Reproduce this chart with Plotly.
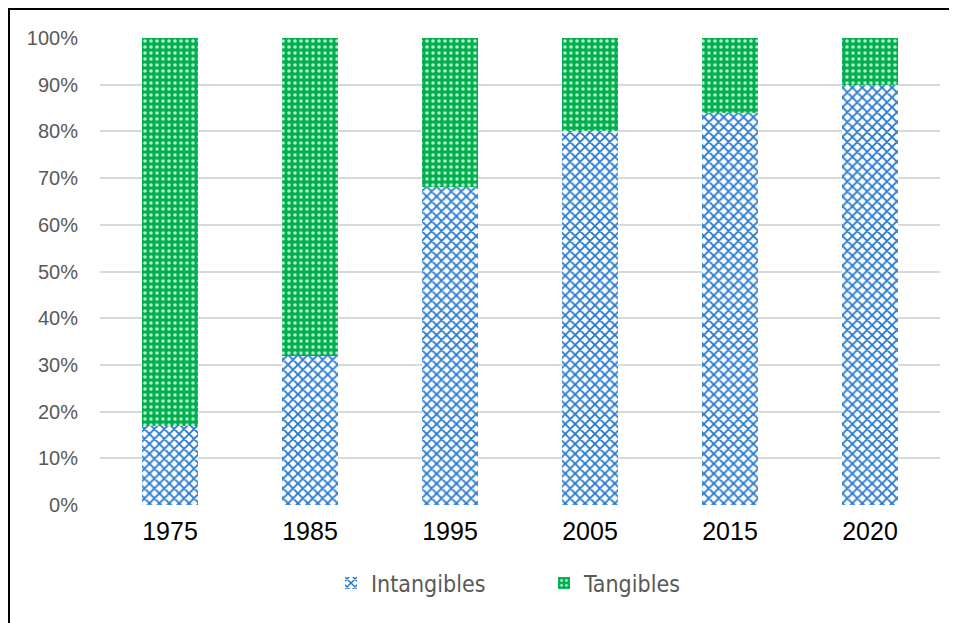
import plotly.graph_objects as go

years = ["1975", "1985", "1995", "2005", "2015", "2020"]
intangibles = [17, 32, 68, 80, 84, 90]
tangibles = [83, 68, 32, 20, 16, 10]
y_ticks = [0, 10, 20, 30, 40, 50, 60, 70, 80, 90, 100]
y_tick_labels = [f"{v}%" for v in y_ticks]

fig = go.Figure()
fig.add_trace(go.Bar(
    x=years, y=intangibles, name="Intangibles",
    marker=dict(color="white", line=dict(width=0),
                pattern=dict(shape="x", fgcolor="#2478cf", bgcolor="white",
                             size=7, solidity=0.45, fillmode="overlay", fgopacity=1)),
))
fig.add_trace(go.Bar(
    x=years, y=tangibles, name="Tangibles",
    marker=dict(color="#00b050", line=dict(width=0),
                pattern=dict(shape=".", fgcolor="#b8ecc8", bgcolor="#00b050",
                             size=6, solidity=0.28, fillmode="overlay", fgopacity=1)),
))

# page body has an 8px offset; the figure is sized/margined to compensate
OFF = 8
W, H = 957 - OFF, 623 - OFF
L, R, T, B = 100 - OFF, 17, 38 - OFF, 118
pw, ph = W - L - R, H - T - B

def px(x):
    return (x - OFF - L) / pw

def py(y):
    return (H - B - (y - OFF)) / ph

fig.update_layout(
    width=W, height=H, barmode="stack", bargap=0.6,
    margin=dict(l=L, r=R, t=T, b=B),
    plot_bgcolor="white", paper_bgcolor="white",
    showlegend=True,
    legend=dict(orientation="h", x=px(331), xanchor="left", y=py(583), yanchor="middle",
                font=dict(family="DejaVu Sans Condensed, DejaVu Sans", size=23, color="#595959"),
                itemwidth=30, traceorder="normal",
                entrywidth=168, entrywidthmode="pixels"),
    xaxis=dict(showgrid=False, showline=False, ticks="",
               tickfont=dict(family="Liberation Sans, Arial", size=25, color="black"),
               ticklabelstandoff=9),
    yaxis=dict(range=[0, 100], tickvals=y_ticks, ticktext=y_tick_labels,
               showgrid=True, gridcolor="#d9d9d9", gridwidth=1.5,
               zeroline=False, showline=False, ticks="",
               tickfont=dict(family="Liberation Sans, Arial", size=20, color="#595959"),
               ticklabelstandoff=21),
    shapes=[
        dict(type="line", xref="paper", yref="paper", x0=px(8), x1=px(957 + 5),
             y0=py(9), y1=py(9), line=dict(color="black", width=2)),
        dict(type="line", xref="paper", yref="paper", x0=px(9), x1=px(9),
             y0=py(8), y1=py(623 + 5), line=dict(color="black", width=2)),
    ],
)

fig.write_html("out.html")
